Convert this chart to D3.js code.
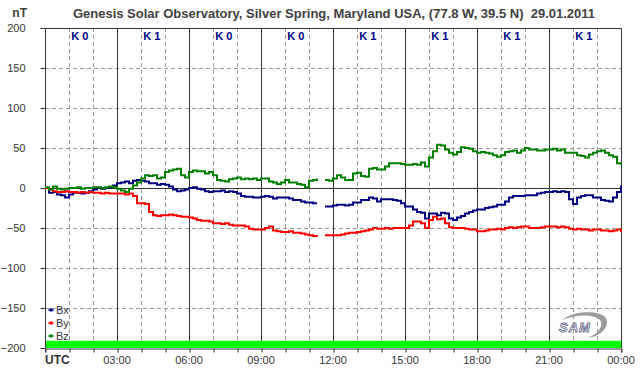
<!DOCTYPE html>
<html>
<head>
<meta charset="utf-8">
<script src="https://cdn.jsdelivr.net/npm/d3@7"></script>
<style>
  html, body { margin: 0; padding: 0; background: #fff; }
  svg { display: block; font-family: "Liberation Sans", Arial, sans-serif; }
</style>
</head>
<body>
<svg id="chart" width="642" height="376"></svg>
<script>
// 10-minute samples, 00:00 .. 24:00 UTC (null = data gap)
const bx = [0, -6, -5, -8, -9, -12, -8, -6, -6, -7, -6, -4, -2, 0, -1, 0, 1, 3, 6, 7, 8, 6, 9, 10, 9,
  8, 6, 6, 4, 5, 4, 2, -2, -4, -3, -2, 0, 1, -1, -2, -4, -5, -4, -4, -3, -5, -4, -5, -7, -10,
  -11, -11, -12, -12, -11, -10, -11, -13, -12, -12, -12, -13, -15, -15, -17, -18, -18, -19, -19, null,
  -23, -23, -22, -21, -21, -22, -21, -18, -18, -15, -15, -12, -13, -17, -14, -14, -14, -15, -16, -19,
  -23, -23, -27, -30, -31, -38, -32, -32, -34, -31, -32, -38, -40, -37, -35, -32, -30, -28, -27, -27,
  -25, -24, -23, -21, -21, -17, -12, -10, -10, -10, -9, -9, -9, -7, -6, -5, -5, -4, -5, -4,
  -5, -14, -20, -12, -10, -9, -9, -12, -12, -15, -16, -17, -12, -5, 3]
const by = [0, -2, -4, -5, -5, -4, -5, -5, -6, -5, -6, -5, -6, -6, -7, -6, -7, -7, -7, -7, -8, -7, -10, -19, -19,
  -20, -30, -34, -35, -34, -34, -33, -34, -35, -36, -36, -37, -38, -40, -41, -41, -42, -44, -44, -45, -44,
  -46, -47, -47, -47, -48, -51, -52, -52, -52, -50, -48, -53, -54, -55, -55, -54, -56, -56, -57, -58,
  -59, -60, -61, null, -59, -59, -59, -59, -58, -57, -56, -56, -55, -54, -53, -52, -50, -51, -51, -50,
  -51, -50, -50, -50, -50, -47, -42, -42, -44, -50, -40, -36, -39, -38, -44, -49, -50, -50, -50, -51,
  -52, -52, -54, -54, -53, -52, -52, -51, -52, -50, -49, -50, -49, -48, -48, -50, -50, -50, -49, -48,
  -48, -48, -49, -48, -49, -51, -52, -51, -52, -52, -53, -52, -52, -53, -53, -54, -53, -52, -55]
const bz = [1, -2, 2, -1, -2, -1, 0, 0, 1, -1, 0, 0, 1, 1, 0, 1, 2, 1, -1, -3, -5, -1, 3, 7, 12,
  16, 15, 16, 12, 13, 20, 22, 23, 24, 16, 13, 20, 22, 21, 21, 18, 20, 16, 10, 9, 8, 11, 12, 13, 11,
  12, 11, 12, 10, 12, 12, 8, 7, 5, 7, 10, 7, 7, 5, 4, 1, 9, 10, 12, null,
  10, 9, 12, 16, 13, 10, 10, 18, 19, 15, 14, 24, 25, 23, 23, 27, 31, 31, 31, 30,
  29, 29, 30, 29, 32, 27, 38, 46, 54, 53, 48, 44, 42, 45, 51, 50, 49, 46, 44, 45,
  44, 43, 41, 39, 41, 45, 46, 47, 44, 47, 50, 48, 48, 47, 47, 48, 48, 49, 47, 48,
  44, 44, 44, 41, 40, 38, 42, 44, 46, 47, 44, 41, 39, 31, 29]

const kIndex = ["K 0", "K 1", "K 0", "K 0", "K 1", "K 1", "K 1", "K 1"]
const xTickLabels = ["UTC", "03:00", "06:00", "09:00", "12:00", "15:00", "18:00", "21:00", "00:00"]
const yTicks = [-200, -150, -100, -50, 0, 50, 100, 150, 200]

const series = [
  {name: "Bx", values: bx, color: "#000080"},
  {name: "By", values: by, color: "#ff0000"},
  {name: "Bz", values: bz, color: "#008000"}
]

const svg = d3.select("#chart")
const x = d3.scaleLinear().domain([0, 24]).range([45, 621])
const y = d3.scaleLinear().domain([-200, 200]).range([348, 28])

// title
svg.append("text")
  .attr("x", 334).attr("y", 18)
  .attr("text-anchor", "middle")
  .attr("font-size", 13).attr("font-weight", "bold")
  .attr("fill", "#404040")
  .style("white-space", "pre")
  .text("Genesis Solar Observatory, Silver Spring, Maryland USA, (77.8 W, 39.5 N)  29.01.2011")

svg.append("text")
  .attr("x", 27).attr("y", 17)
  .attr("text-anchor", "end")
  .attr("font-size", 12).attr("font-weight", "bold")
  .attr("fill", "#404040")
  .text("nT")

// grid
const grid = svg.append("g")
grid.selectAll("line.h")
  .data(yTicks.filter((d) => d !== 0 && d !== 200 && d !== -200))
  .join("line")
  .attr("x1", x(0)).attr("x2", x(24))
  .attr("y1", (d) => y(d) + 0.5).attr("y2", (d) => y(d) + 0.5)
  .attr("stroke", "#999").attr("stroke-dasharray", "4,3")

grid.selectAll("line.v")
  .data(d3.range(1, 24).filter((h) => h % 3 !== 0))
  .join("line")
  .attr("x1", (d) => x(d) + 0.5).attr("x2", (d) => x(d) + 0.5)
  .attr("y1", y(200)).attr("y2", y(-200))
  .attr("stroke", "#999").attr("stroke-dasharray", "4,3")

// data availability bar
svg.append("rect")
  .attr("x", x(0)).attr("y", y(-191))
  .attr("width", x(24) - x(0)).attr("height", y(-200) - y(-191))
  .attr("fill", "#00ff00")

grid.selectAll("line.major")
  .data(d3.range(3, 24, 3))
  .join("line")
  .attr("x1", (d) => x(d) + 0.5).attr("x2", (d) => x(d) + 0.5)
  .attr("y1", y(200)).attr("y2", y(-200))
  .attr("stroke", "#333")

// zero line and frame
svg.append("line")
  .attr("x1", x(0)).attr("x2", x(24))
  .attr("y1", y(0) + 0.5).attr("y2", y(0) + 0.5)
  .attr("stroke", "#333")
svg.append("path")
  .attr("d", `M${x(0) + 0.5},${y(-200)} V${y(200) + 0.5} H${x(24) + 0.5} V${y(-200)}`)
  .attr("fill", "none").attr("stroke", "#333")

// axes
const yAxis = svg.append("g")
  .attr("transform", `translate(${x(0) + 0.5},0)`)
  .call(d3.axisLeft(y).tickValues(yTicks).tickSize(5).tickPadding(15))
yAxis.select(".domain").remove()
yAxis.selectAll("line").attr("stroke", "#333")
yAxis.selectAll("text").attr("font-size", 11).attr("fill", "#333")
  .attr("font-family", "Liberation Sans, Arial, sans-serif")

const xAxis = svg.append("g")
  .attr("transform", `translate(0,${y(-200) + 0.5})`)
  .call(d3.axisBottom(x).tickValues(d3.range(0, 25)).tickSize(4).tickFormat(""))
xAxis.selectAll("line").attr("stroke", "#333")
xAxis.selectAll(".tick line").attr("transform", "translate(0.5,0)")
xAxis.select(".domain").attr("stroke", "#333")

svg.append("g").selectAll("text")
  .data(xTickLabels)
  .join("text")
  .attr("x", (d, i) => x(i * 3))
  .attr("y", 364)
  .attr("text-anchor", (d, i) => (i === 0 ? "start" : "middle"))
  .attr("font-size", (d, i) => (i === 0 ? 12 : 11))
  .attr("font-weight", (d, i) => (i === 0 ? "bold" : "normal"))
  .attr("fill", "#333")
  .text((d) => d)

// K index labels
svg.append("g").selectAll("text")
  .data(kIndex)
  .join("text")
  .attr("x", (d, i) => x(i * 3 + 1.45))
  .attr("y", 40)
  .attr("text-anchor", "middle")
  .attr("font-size", 11).attr("font-weight", "bold")
  .attr("fill", "#000080")
  .text((d) => d)

// series
const line = d3.line()
  .defined((d) => d != null)
  .x((d, i) => x(i / 6))
  .y((d) => y(d))
  .curve(d3.curveStepAfter)

svg.append("g").selectAll("path")
  .data(series)
  .join("path")
  .attr("d", (s) => line(s.values))
  .attr("fill", "none")
  .attr("stroke", (s) => s.color)
  .attr("stroke-width", 2)

// legend
const legend = svg.append("g").selectAll("g")
  .data(series)
  .join("g")
  .attr("transform", (d, i) => `translate(48,${310 + i * 13})`)
legend.append("line")
  .attr("x1", 0).attr("x2", 6)
  .attr("stroke", (d) => d.color).attr("stroke-width", 1)
legend.append("circle")
  .attr("cx", 3).attr("r", 1.8)
  .attr("fill", (d) => d.color)
legend.append("text")
  .attr("x", 8).attr("y", 4)
  .attr("font-size", 11).attr("fill", "#333")
  .text((d) => d.name)

// SAM logo
const logo = svg.append("g").attr("transform", "translate(556,312)")
logo.append("path")
  .attr("d", "M6,8 C18,-2 44,-2 50,6 C54,14 46,24 32,26 C42,22 48,14 44,8 C38,2 20,2 6,8 Z")
  .attr("fill", "#9a9a9a")
logo.append("text")
  .attr("x", 3).attr("y", 20)
  .attr("font-size", 13).attr("font-style", "italic").attr("font-weight", "bold")
  .attr("fill", "#fff").attr("stroke", "#6a6a90").attr("stroke-width", 0.8)
  .attr("letter-spacing", 1)
  .text("SAM")
</script>
</body>
</html>
